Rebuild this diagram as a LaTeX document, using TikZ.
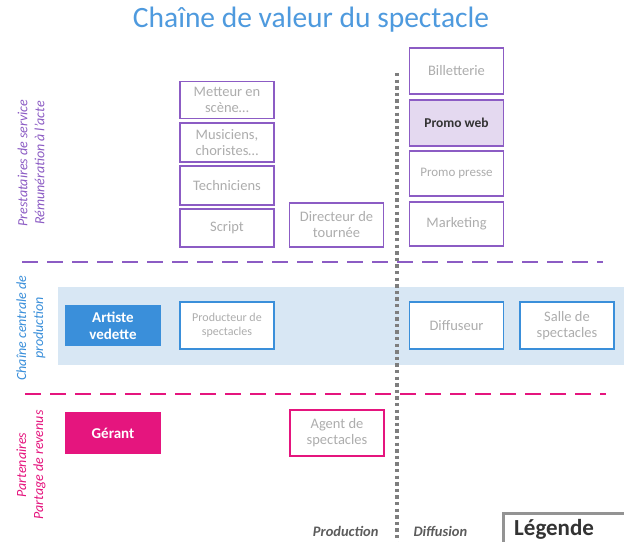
\documentclass[tikz,border=0pt]{standalone}
\usepackage{fontspec}
\setmainfont{Carlito}
\usetikzlibrary{positioning}
\definecolor{ChaineBlue}{HTML}{3A8FDA}
\definecolor{ChaineBand}{HTML}{D8E7F4}
\definecolor{ChainePurple}{HTML}{8C5CC4}
\definecolor{ChainePurpleLight}{HTML}{E4D9F0}
\definecolor{ChainePink}{HTML}{E5157E}
\definecolor{ChaineGrey}{HTML}{ADADAD}
\definecolor{ChaineDots}{HTML}{7E7E7E}
\definecolor{ChaineDark}{HTML}{333333}
\tikzset{
    % Base box style
    basebox/.style={
        draw,
        fill=white,
        line width=1.4pt,
        minimum width=94pt,
        minimum height=40pt,
        inner sep=2pt,
        align=center,
        text=ChaineGrey,
        font=\fontsize{14.5}{16}\selectfont
    },
    % Service providers
    servicebox/.style={
        basebox,
        draw=ChainePurple
    },
    % Central production chain
    chainbox/.style={
        basebox,
        draw=ChaineBlue,
        minimum height=47pt
    },
    % Revenue partners
    partnerbox/.style={
        basebox,
        draw=ChainePink,
        minimum height=46pt
    },
    % Highlighted box
    keybox/.style={
        basebox,
        text=white,
        font=\fontsize{15}{17}\selectfont\bfseries
    },
    % Row separator
    separator/.style={
        dash pattern=on 16pt off 9pt,
        line width=2.6pt
    },
    % Row label
    rowlabel/.style={
        rotate=90,
        align=center,
        font=\fontsize{14}{17}\selectfont\itshape
    },
    % Column label
    collabel/.style={
        text=ChaineDark!80,
        font=\fontsize{14.5}{16}\selectfont\bfseries\itshape
    }
}

\begin{document}
\begin{tikzpicture}[x=1pt, y=-1pt]
    \useasboundingbox[fill=white] (0,0) rectangle (624,541);

    % band of the central chain
    \fill[ChaineBand] (58,287) rectangle (624,365);

    \node[text=ChaineBlue!90, font=\fontsize{29.5}{32}\selectfont] (title) at (311,20) {Chaîne de valeur du spectacle};

    % service providers
    \node[servicebox, minimum height=37pt] (metteur) at (227,100) {Metteur en\\scène\dots};
    \node[servicebox, minimum height=39pt] (musiciens) at (227,142.5) {Musiciens,\\choristes\dots};
    \node[servicebox, minimum height=39pt] (techniciens) at (227,185.5) {Techniciens};
    \node[servicebox, minimum height=38pt] (script) at (227,228) {Script};
    \node[servicebox, minimum height=44pt] (directeur) at (336.5,225) {Directeur de\\tournée};

    \node[servicebox, minimum height=46pt] (billetterie) at (456.5,71) {Billetterie};
    \node[servicebox, minimum height=46pt, fill=ChainePurpleLight, text=ChaineDark, font=\fontsize{13.5}{15}\selectfont\bfseries] (promoweb) at (456.5,123) {Promo web};
    \node[servicebox, minimum height=45pt, font=\fontsize{13}{15}\selectfont] (promopresse) at (456.5,173.5) {Promo presse};
    \node[servicebox, minimum height=44pt] (marketing) at (456.5,224) {Marketing};

    % central chain
    \node[chainbox, keybox, fill=ChaineBlue] (artiste) at (113,325.5) {Artiste\\vedette};
    \node[chainbox, font=\fontsize{12}{14}\selectfont] (producteur) at (227,325.5) {Producteur de\\spectacles};
    \node[chainbox] (diffuseur) at (456.5,325.5) {Diffuseur};
    \node[chainbox] (salle) at (567,325.5) {Salle de\\spectacles};

    % partners
    \node[partnerbox, keybox, fill=ChainePink, draw=ChainePink] (gerant) at (113,433) {Gérant};
    \node[partnerbox] (agent) at (337,433) {Agent de\\spectacles};

    % separators
    \coordinate (purpleL) at (22,262);
    \coordinate (purpleR) at (603,262);
    \coordinate (pinkL) at (25,394);
    \coordinate (pinkR) at (606,394);
    \coordinate (dotsT) at (397,73);
    \coordinate (dotsB) at (397,545);
    \draw[separator, ChainePurple] (purpleL) -- (purpleR);
    \draw[separator, ChainePink] (pinkL) -- (pinkR);
    \draw[ChaineDots, line width=3.4pt, dash pattern=on 3.4pt off 3.2pt] (dotsT) -- (dotsB);

    % row labels
    \node[rowlabel, text=ChainePurple] (prestataires) at (31,163) {Prestataires de service\\Rémunération à l’acte};
    \node[rowlabel, text=ChaineBlue] (centrale) at (31,328) {Chaîne centrale de\\production};
    \node[rowlabel, text=ChainePink] (partenaires) at (31,465) {Partenaires\\Partage de revenus};

    % column labels
    \node[collabel, anchor=east] (production) at (382,531) {Production};
    \node[collabel, anchor=west] (diffusion) at (410,531) {Diffusion};

    % legend
    \draw[ChaineGrey!85!black, line width=3pt] (503,560) |- (640,513);
    \node[text=ChaineDark, font=\fontsize{23}{26}\selectfont\bfseries, anchor=base west, inner sep=0pt] (legende) at (514,535) {Légende};
\end{tikzpicture}
\end{document}
